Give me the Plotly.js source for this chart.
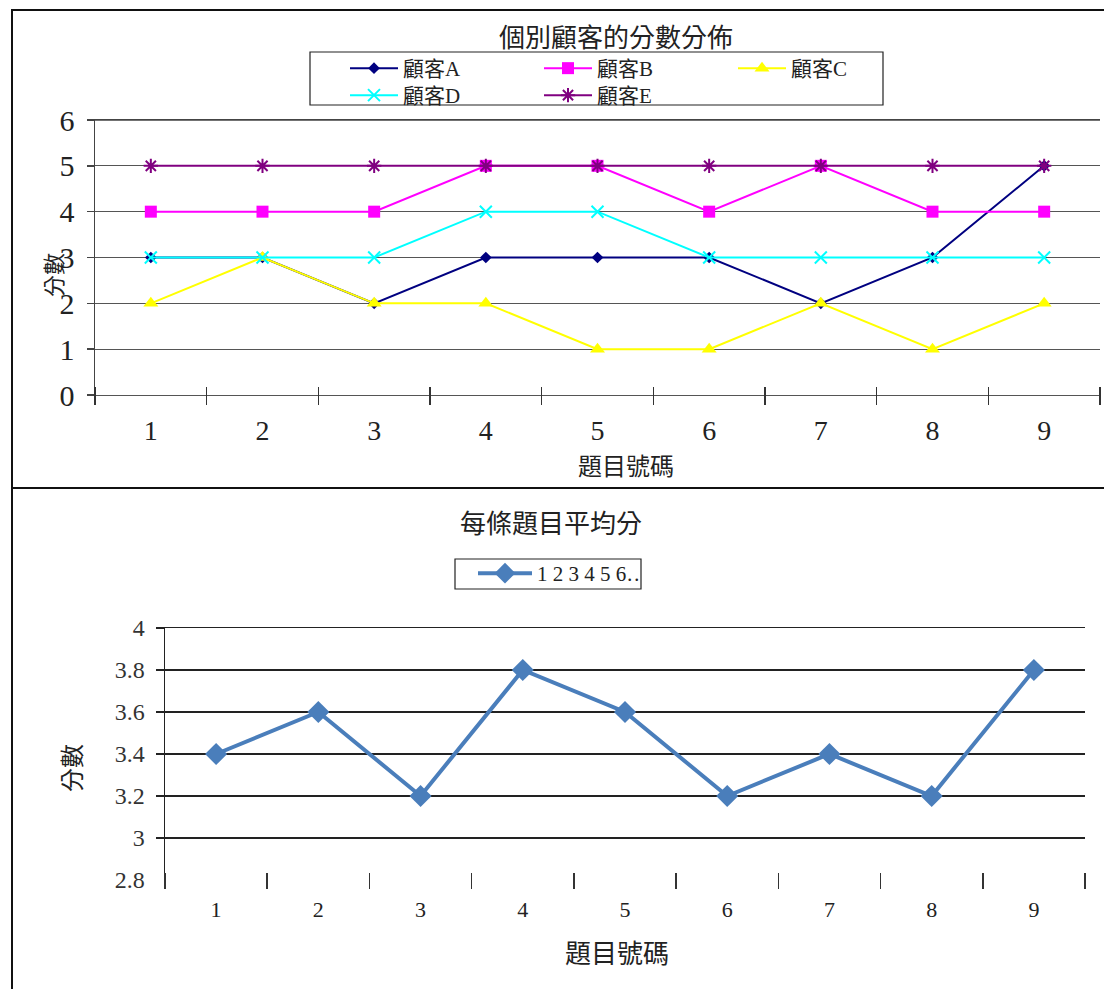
<!DOCTYPE html>
<html>
<head>
<meta charset="utf-8">
<script src="https://cdn.plot.ly/plotly-3.0.1.min.js"></script>
<style>
  html, body { margin: 0; padding: 0; background: #fff; overflow: hidden; }
  #topBox { position: absolute; left: 11px; top: 9px; width: 1093px; height: 477px; border-left: 2px solid #111; border-top: 2px solid #111; }
  #botBox { position: absolute; left: 11px; top: 487px; width: 1093px; height: 500px; border-left: 2px solid #111; border-top: 2px solid #111; }
</style>
</head>
<body>
<div id="topBox"><div id="top"></div></div>
<div id="botBox"><div id="bot"></div></div>
<script>
// ---------- data ----------
const questions = [1, 2, 3, 4, 5, 6, 7, 8, 9];
const questionLabels = ['1', '2', '3', '4', '5', '6', '7', '8', '9'];
const customerNames = ['顧客A', '顧客B', '顧客C', '顧客D', '顧客E'];
const scoresA = [3, 3, 2, 3, 3, 3, 2, 3, 5];
const scoresB = [4, 4, 4, 5, 5, 4, 5, 4, 4];
const scoresC = [2, 3, 2, 2, 1, 1, 2, 1, 2];
const scoresD = [3, 3, 3, 4, 4, 3, 3, 3, 3];
const scoresE = [5, 5, 5, 5, 5, 5, 5, 5, 5];
const averageScores = [3.4, 3.6, 3.2, 3.8, 3.6, 3.2, 3.4, 3.2, 3.8];
const averageSeriesName = '1 2 3 4 5 6…';
const topYTicks = [0, 1, 2, 3, 4, 5, 6];
const botYTicks = [2.8, 3, 3.2, 3.4, 3.6, 3.8, 4];
const botYTickText = ['2.8', '3', '3.2', '3.4', '3.6', '3.8', '4'];
const botGridTicks = [3, 3.2, 3.4, 3.6, 3.8, 4];
const boundaries = [0.5, 1.5, 2.5, 3.5, 4.5, 5.5, 6.5, 7.5, 8.5, 9.5];

const SERIF = '"Liberation Serif", "Times New Roman", "Noto Sans CJK TC", serif';
const CJK = '"Noto Sans CJK TC", "Noto Sans CJK SC", sans-serif';
const LEG = '"Liberation Serif", "Noto Sans CJK TC", serif';

// helper: empty traces so the overlay axes get drawn
function helper(xa, ya) {
  return {x: [], y: [], xaxis: xa, yaxis: ya, type: 'scatter', mode: 'lines',
          showlegend: false, hoverinfo: 'skip'};
}
// crossing boundary ticks: a free overlay axis raised by half the tick length
function crossTickAxis(half, plotH) {
  return {overlaying: 'x', anchor: 'free', position: half / plotH, side: 'bottom', range: [0.5, 9.5],
          tickvals: boundaries, ticks: 'outside', ticklen: 2 * half, tickwidth: 1.5, tickcolor: '#333',
          showticklabels: false, showgrid: false, zeroline: false, showline: false, automargin: false};
}
function topLineAxis(color) {
  return {overlaying: 'x', anchor: 'y', side: 'top', range: [0.5, 9.5], ticks: '', showticklabels: false,
          showgrid: false, zeroline: false, showline: true, linecolor: color, linewidth: 1.2, automargin: false};
}

// ---------- top chart ----------
const styles = [
  {color: '#000080', symbol: 'diamond', size: 9, open: false},
  {color: '#FF00FF', symbol: 'square', size: 12, open: false},
  {color: '#FFFF00', symbol: 'triangle-up', size: 13, open: false},
  {color: '#00FFFF', symbol: 'x-thin-open', size: 12, open: true},
  {color: '#800080', symbol: 'asterisk-open', size: 12, open: true}
];
const seriesList = [scoresA, scoresB, scoresC, scoresD, scoresE];
const topTraces = seriesList.map((s, i) => {
  const st = styles[i];
  return {
    x: questions, y: s, type: 'scatter', mode: 'lines+markers',
    name: customerNames[i],
    legend: i < 3 ? 'legend' : 'legend2',
    line: {color: st.color, width: 2},
    marker: {symbol: st.symbol, size: st.size, color: st.color,
             line: {color: st.color, width: st.open ? 2 : 0}},
    cliponaxis: false
  };
});
topTraces.unshift(helper('x2', 'y'), helper('x3', 'y'));

const TW = 1091, TH = 477;
const TPL = 82, TPW = 1005, TPT = 109, TPH = 275;
const topLegendCommon = {orientation: 'h', xref: 'container', yref: 'container', x: 332 / TW, xanchor: 'left',
  yanchor: 'top', entrywidth: 131, itemwidth: 48, bgcolor: 'rgba(0,0,0,0)', borderwidth: 0,
  font: {family: LEG, size: 21, color: '#222'}};
const topLayout = {
  width: TW, height: TH,
  margin: {l: TPL, r: TW - TPL - TPW, t: TPT, b: TH - TPT - TPH},
  paper_bgcolor: '#fff', plot_bgcolor: '#fff',
  showlegend: true,
  title: {text: '個別顧客的分數分佈', font: {family: CJK, size: 26, color: '#222'},
          x: (603 - TPL) / TPW, xref: 'paper', xanchor: 'center', y: 1 - 27 / TH, yref: 'container', yanchor: 'middle'},
  xaxis: {range: [0.5, 9.5], tickvals: questions, ticktext: questionLabels, ticks: '',
          showgrid: false, zeroline: false, showline: true, linecolor: '#555', linewidth: 1.4,
          ticklabelstandoff: 10, tickfont: {family: SERIF, size: 28, color: '#222'},
          automargin: false, fixedrange: true},
  xaxis2: crossTickAxis(9, TPH),
  xaxis3: topLineAxis('#444'),
  yaxis: {range: [0, 6], tickvals: topYTicks, ticks: 'outside', ticklen: 7, tickcolor: '#444', tickwidth: 1.5,
          showgrid: true, gridcolor: '#555', gridwidth: 1.2, zeroline: false,
          showline: true, linecolor: '#444', linewidth: 1.5,
          ticklabelstandoff: 6, tickfont: {family: SERIF, size: 30, color: '#222'},
          automargin: false, fixedrange: true},
  legend: Object.assign({}, topLegendCommon, {y: 1 - 37 / TH}),
  legend2: Object.assign({}, topLegendCommon, {y: 1 - 64 / TH}),
  shapes: [
    {type: 'rect', xref: 'paper', yref: 'paper',
     x0: (297 - TPL) / TPW, x1: (870 - TPL) / TPW,
     y0: 1 + (TPT - 94) / TPH, y1: 1 + (TPT - 41) / TPH,
     line: {color: '#222', width: 1.2}, fillcolor: 'rgba(0,0,0,0)', layer: 'above'},
    {type: 'line', xref: 'paper', yref: 'paper', x0: 0, x1: 1, y0: 1, y1: 1,
     line: {color: '#444', width: 1.3}, layer: 'above'}
  ],
  annotations: [
    {text: '分數', textangle: -90, xref: 'paper', yref: 'paper',
     x: (39 - TPL) / TPW, y: (TPT + TPH - 264) / TPH, xanchor: 'center', yanchor: 'middle',
     showarrow: false, font: {family: CJK, size: 22, color: '#222'}},
    {text: '題目號碼', xref: 'paper', yref: 'paper',
     x: (613 - TPL) / TPW, y: -(454 - TPT - TPH) / TPH, xanchor: 'center', yanchor: 'middle',
     showarrow: false, font: {family: CJK, size: 24, color: '#222'}}
  ]
};

Plotly.newPlot('top', topTraces, topLayout, {displayModeBar: false, staticPlot: true});

// ---------- bottom chart ----------
const BW = 1091, BH = 498;
const PL = 152, PW = 920, PT = 139, PH = 252;
const botTraces = [helper('x2', 'y'), helper('x3', 'y'), helper('x', 'y2'), {
  x: questions, y: averageScores, type: 'scatter', mode: 'lines+markers',
  name: averageSeriesName,
  line: {color: '#4A7EBB', width: 4},
  marker: {symbol: 'diamond', size: 17, color: '#4A7EBB'},
  cliponaxis: false
}];
const botLayout = {
  width: BW, height: BH,
  margin: {l: PL, r: BW - PL - PW, t: PT, b: BH - PT - PH},
  paper_bgcolor: '#fff', plot_bgcolor: '#fff',
  showlegend: true,
  title: {text: '每條題目平均分', font: {family: CJK, size: 26, color: '#222'},
          x: 538 / BW, xref: 'container', xanchor: 'center', y: 1 - 35 / BH, yref: 'container', yanchor: 'middle'},
  xaxis: {range: [0.5, 9.5], tickvals: questions, ticktext: questionLabels, ticks: '',
          showgrid: false, zeroline: false, showline: false,
          ticklabelstandoff: 14, tickfont: {family: SERIF, size: 22, color: '#222'},
          automargin: false, fixedrange: true},
  xaxis2: crossTickAxis(8, PH),
  xaxis3: topLineAxis('#222'),
  yaxis: {range: [2.8, 4], tickvals: botYTicks, ticktext: botYTickText, ticks: '',
          showgrid: false, zeroline: false, showline: true, linecolor: '#222', linewidth: 1.5,
          ticklabelstandoff: 14, tickfont: {family: SERIF, size: 24, color: '#333'},
          automargin: false, fixedrange: true},
  yaxis2: {overlaying: 'y', anchor: 'x', side: 'left', range: [2.8, 4], tickvals: botGridTicks,
           ticks: 'outside', ticklen: 8, tickwidth: 1.2, tickcolor: '#222', showticklabels: false,
           showgrid: true, gridcolor: '#222', gridwidth: 1.2, zeroline: false, showline: false, automargin: false},
  legend: {orientation: 'h', xref: 'container', yref: 'container', x: 460 / BW, xanchor: 'left',
           y: 1 - 64 / BH, yanchor: 'top', bgcolor: 'rgba(0,0,0,0)', borderwidth: 0,
           itemwidth: 54, entrywidth: 100,
           font: {family: SERIF, size: 21, color: '#222'}},
  shapes: [{type: 'rect', xref: 'paper', yref: 'paper',
            x0: (442 - PL) / PW, x1: (628 - PL) / PW,
            y0: 1 + (PT - 100) / PH, y1: 1 + (PT - 70) / PH,
            line: {color: '#222', width: 1.2}, fillcolor: 'rgba(0,0,0,0)', layer: 'above'}],
  annotations: [
    {text: '分數', textangle: -90, xref: 'paper', yref: 'paper',
     x: (57 - PL) / PW, y: (PT + PH - 279) / PH, xanchor: 'center', yanchor: 'middle',
     showarrow: false, font: {family: CJK, size: 24, color: '#222'}},
    {text: '題目號碼', xref: 'paper', yref: 'paper',
     x: (604 - PL) / PW, y: -(463 - PT - PH) / PH, xanchor: 'center', yanchor: 'middle',
     showarrow: false, font: {family: CJK, size: 26, color: '#222'}}
  ]
};

Plotly.newPlot('bot', botTraces, botLayout, {displayModeBar: false, staticPlot: true});
</script>
</body>
</html>
